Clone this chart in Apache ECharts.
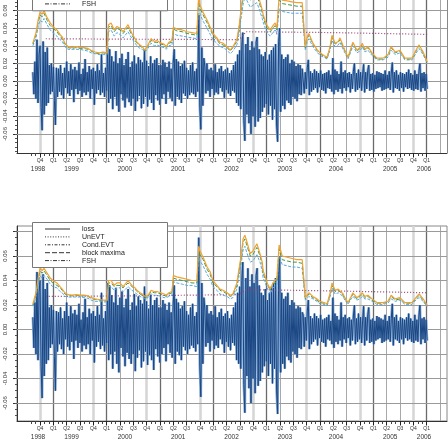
<!DOCTYPE html>
<html><head><meta charset="utf-8">
<script src="https://cdn.jsdelivr.net/npm/echarts@6/dist/echarts.min.js"></script>
<style>html,body{margin:0;padding:0;background:#fff}#c{width:448px;height:441px}</style>
</head><body><div id="c"></div>
<script>
// ---------- DATA (values in units of 0.001) ----------
const lossStart = 7.4, lossEnd = 96.1;   // months since Jan 1998
const loss = [
10,-15,22,-20,47,-25,30,
40,-30,-56,45,-38,33,-28,38,-25,
18,-15,20,-12,16,-22,-50,15,-18,
14,-12,18,-16,9,-20,15,-8,22,-14,11,-17,19,-10,13,-24,16,-9,12,-15,21,-11,8,-18,14,-13,25,-16,10,-12,17,-20,13,-9,15,-27,11,-14,19,-10,12,-16,30,-13,9,-18,15,-11,
38,-25,36,-20,28,-32,22,-18,34,-28,20,-35,26,-15,31,-22,18,-30,25,-19,33,-24,16,-28,22,-20,29,-34,19,-23,27,-17,24,-31,21,-26,35,-18,23,-29,17,-21,28,-25,20,-33,24,-16,26,-22,18,-27,
18,-20,24,-15,21,-26,16,-12,22,-19,14,-23,20,36,-28,25,-18,22,-21,17,-25,19,-14,23,-17,15,-20,12,-16,18,-13,21,-15,11,-18,14,-12,
75,-30,-55,38,-28,26,
16,-14,20,-11,13,-18,15,-9,12,-16,19,-13,10,-15,14,-8,17,-12,11,-19,13,-10,15,-14,9,-17,12,-11,18,-13,
22,-25,30,-28,35,-32,40,55,-45,-68,42,-38,50,-48,35,-60,45,-40,38,-52,44,50,-46,36,-42,30,-35,28,-30,33,-26,24,-38,30,-28,35,-44,38,-32,42,-50,-69,45,60,
-35,30,-28,25,-32,27,-22,30,-25,20,-27,24,-18,22,-20,17,-23,19,-15,18,-16,14,
12,-14,10,-9,15,24,-16,11,-12,9,-10,13,-8,11,-13,9,-7,12,-10,8,-11,9,-14,10,-8,12,-9,7,-12,26,
-15,13,-10,11,-12,8,-9,22,-14,10,-8,12,-11,9,-7,10,-13,8,-9,11,20,-12,9,-10,13,-8,10,-11,7,19,
-13,10,-9,12,18,-11,8,-10,9,-12,7,-9,11,-8,10,-7,9,-11,8,-10,12,-9,7,-8,11,-10,9,21,-13,10,
-8,12,-9,7,-11,10,-8,9,-12,8,-7,10,-9,13,-8,9,-10,7,-11,12,-9,8,-10,11,20,-12,9,-8,10,-11,8,-9
];
const varMonths = [7.4,8.1,8.6,9.0,9.5,9.9,10.6,11.3,11.9,12.8,
13.5,14.0,14.6,15.3,16.2,17.1,18.0,18.9,19.8,20.5,
21.4,22.3,23.2,24.1,24.4,25.0,25.7,26.3,27.0,27.7,
28.1,28.8,29.7,30.4,30.8,31.5,32.0,32.6,33.3,34.0,
34.7,35.3,36.2,36.9,37.4,38.0,38.7,39.0,39.8,41.0,
42.1,43.2,44.3,44.7,45.0,45.7,46.6,47.3,47.9,48.8,
49.5,50.2,51.1,51.8,52.4,53.3,53.8,54.2,54.7,55.1,
55.6,56.3,56.9,57.8,58.5,59.0,59.2,59.6,60.1,60.8,
61.4,61.9,62.3,62.8,63.5,64.6,65.7,66.8,68.0,68.4,
68.7,69.1,69.5,70.4,71.3,72.0,72.9,73.6,74.3,74.7,
75.4,76.1,76.5,77.2,77.6,78.3,79.0,79.4,80.3,81.0,
81.5,82.1,82.8,83.7,84.8,86.2,87.3,88.0,88.9,90.0,
91.1,92.7,93.8,94.3,95.2,96.1];
// upper panel
const condTop = [43,55,70,78,76,80,72,66,62,58, 53,50,43,39,38,39,38,38,37,35, 33,32,33,32,64,66,58,62,60,56, 55,64,54,48,44,41,39,35,41,48, 45,46,43,42,39,44,46,61,59,58, 56,55,54,98,86,78,69,61,54,49, 44,43,39,35,39,47,62,80,100,110, 104,96,98,102,90,81,76,69,63,58, 63,66,60,96,92,91,90,89,89,88, 39,50,54,43,36,32,29,27,40,52, 43,45,49,40,35,27,38,44,35,38, 43,36,39,32,26,26,30,39,33,35, 26,26,37,41,33,22];
const bmTop = [42,53,67,75,73,77,69,63,60,56, 51,48,42,38,37,38,37,37,36,34, 32,31,32,31,61,63,56,60,58,54, 53,61,52,46,43,40,38,34,40,46, 44,44,42,41,38,43,44,59,57,56, 54,53,52,94,83,75,66,59,52,47, 42,41,38,34,38,45,60,77,96,106, 100,92,94,98,86,78,73,66,60,56, 60,63,58,92,88,87,86,85,85,84, 38,48,52,42,35,31,28,26,39,50, 42,44,47,39,34,26,37,43,34,37, 42,35,38,31,25,25,29,38,32,34, 25,25,36,40,32,21.5];
const fshTop = [40,49,62,69,67,71,64,58,55,51, 47,45,39,36,36,36,36,35,34,32, 31,30,30,30,56,58,51,55,53,49, 48,56,48,43,40,37,36,33,37,43, 40,41,39,38,36,40,41,54,52,51, 50,49,48,86,76,68,60,53,47,43, 39,38,35,31,34,41,54,70,87,96, 91,84,86,89,79,71,67,61,55,51, 55,58,53,82,79,78,77,77,77,76, 35,44,48,39,33,29,27,25,36,46, 39,41,44,36,32,25,34,40,32,34, 39,33,35,29,24,24,27,35,30,32, 24,24,33,37,30,20.5];
// lower panel
const condBot = [21,30,42,50,48,50,46,42,40,38, 35,33,30,28.5,28,28.5,28,28,27.5,26, 25,24.5,24,24,40,40,36,38,38,35, 34,40,36,34,32,30,29,27,28,32, 31,31,30,29,28,30,31,44,43,42, 41,40,40,68,64,59,51,47,40,36, 33,32,30,28,29,38,50,59,74,77, 71,62,64,70,62,55,48,44,38,33, 38,40,42,69,60,59,58,57,57,56, 26,28,30,27,25,23,22,21,30,38, 32,33,34,29,26,22,27,30,26,28, 30,27,28,25,22,22,23,28,25,26, 22,22,27,29,25,20];
const bmBot = [20,29,40,48,46,48,44,40,38,36, 34,32,29,28,27.5,28,27.5,27.5,27,25.5, 24.5,24,23.5,23.5,38,38,35,36,36,34, 33,38,35,33,31,29,28,26,27,31, 30,30,29,28,27,29,30,42,41,40, 39,38,38,65,61,57,49,45,38,35, 32,31,29,27,28,36,48,57,71,74, 68,60,61,67,60,53,46,42,37,32, 37,38,40,66,57,56,55,55,54,54, 25,27,29,26,24,22,21.5,20.5,29,36, 31,32,33,28,25,21.5,26,29,25,27, 29,26,27,24,21.5,21.5,22.5,27,24,25, 21.5,21.5,26,28,24,19.5];
const fshBot = [19,27,37,44,42,44,41,37,35,34, 31,30,27,26.5,26.5,26.5,26.5,26,25.5,24, 23,23,22.5,22.5,35,35,32,34,34,31, 30,35,32,30,29,27,26,25,26,29, 28,28,27,26,26,27,28,39,38,37, 36,36,35,60,56,52,45,41,35,32, 29,28,27,25,26,33,44,52,65,68, 62,55,56,61,55,48,42,39,34,29, 34,35,37,60,53,52,51,51,50,50, 24,25,27,25,23,21,20.5,19.5,27,34, 29,30,31,27,24,20.5,25,27,24,25, 27,25,25,23,20.5,20.5,21.5,25,23,24, 20.5,20.5,25,26,23,18.5];
const unevtMonths = [10.3, 30, 53.8, 55.4, 75, 96.1];
const unevtTop = [48, 47.5, 47, 56, 55, 53];
const unevtBot = [27, 27.5, 28.5, 32.6, 31.5, 30];
// tick labels
const yearLabels = ['1998','1999','2000','2001','2002','2003','2004','2005','2006'];
const yearPos = [8.55, 16.1, 28.1, 40.1, 52.1, 64.1, 75.6, 87.8, 95.4];
const yLabelsTop = [-0.06,-0.04,-0.02,0,0.02,0.04,0.06,0.08];
const yLabelsBot = [-0.06,-0.04,-0.02,0,0.02,0.04,0.06];
const legendNames = ['loss','UnEVT','Cond.EVT','block maxima','FSH'];

// ---------- BUILD ----------
const FONT = '"Liberation Sans", Arial, sans-serif';
const XMIN = 3.825, XMAX = 100.575;
const monthTicks = []; for (let m = 7; m <= 96; m++) monthTicks.push(m);
const quarterMonths = []; for (let m = 9; m <= 99; m += 3) quarterMonths.push(m);
const quarterLabelMonths = quarterMonths.filter(m => m <= 96);
const qName = v => 'Q' + (Math.floor((Math.round(v) % 12) / 3) + 1);
const yearName = v => { let b = 0; yearPos.forEach((p, i) => { if (Math.abs(p - v) < Math.abs(yearPos[b] - v)) b = i; }); return yearLabels[b]; };

const n = loss.length;
const lossData = loss.map((v, i) => [lossStart + i * (lossEnd - lossStart) / (n - 1), v / 1000]);
const pairs = (xs, ys) => ys.map((v, i) => [xs[i], v / 1000]).filter(p => p[0] != null);

const panels = [
  {top: 0, height: 153, yMin: -0.0818, yMax: 0.09205, border: false, cond: condTop, bm: bmTop, fsh: fshTop, un: unevtTop,
   yLabels: yLabelsTop, yGrid: [-0.06,-0.04,-0.02,0,0.02,0.04,0.06,0.08], legendY: -34.7},
  {top: 226, height: 195, yMin: -0.0747, yMax: 0.0845, border: true, cond: condBot, bm: bmBot, fsh: fshBot, un: unevtBot,
   yLabels: yLabelsBot, yGrid: [-0.06,-0.04,-0.02,0,0.02,0.04,0.06,0.08], legendY: 222}
];

const grid = [], xAxis = [], yAxis = [], series = [], graphics = [];
panels.forEach((p, gi) => {
  grid.push({left: 17, right: 1, top: p.top, height: p.height, show: p.border, borderColor: '#888', borderWidth: 1, backgroundColor: 'transparent'});
  xAxis.push({type: 'value', gridIndex: gi, min: XMIN, max: XMAX, position: 'bottom',
    axisLine: {show: true, onZero: false, lineStyle: {color: '#333', width: 1}},
    axisTick: {show: true, customValues: monthTicks, length: 3, lineStyle: {color: '#444', width: 1}},
    axisLabel: {show: true, customValues: quarterLabelMonths, formatter: qName, fontSize: 5, color: '#333', margin: 5, fontFamily: FONT},
    splitLine: {show: false}});
  xAxis.push({type: 'value', gridIndex: gi, min: XMIN, max: XMAX, position: 'bottom',
    axisLine: {show: false, onZero: false},
    axisTick: {show: true, customValues: quarterLabelMonths, length: 4.5, lineStyle: {color: '#222', width: 1}},
    axisLabel: {show: true, customValues: yearPos, formatter: yearName, fontSize: 6.5, color: '#333', margin: 13, fontFamily: FONT},
    splitLine: {show: false}});
  const minor = [];
  for (let k = Math.ceil(p.yMin / 0.005); k * 0.005 <= p.yMax; k++) minor.push(+(k * 0.005).toFixed(3));
  yAxis.push({type: 'value', gridIndex: gi, min: p.yMin, max: p.yMax, position: 'left',
    axisLine: {show: true, onZero: false, lineStyle: {color: '#333', width: 1}},
    axisTick: {show: true, customValues: p.yGrid, length: 4, lineStyle: {color: '#333'}},
    axisLabel: {show: true, customValues: p.yLabels, rotate: 90, formatter: v => v.toFixed(2), fontSize: 6, color: '#333', margin: 9, fontFamily: FONT},
    splitLine: {show: false}});
  yAxis.push({type: 'value', gridIndex: gi, min: p.yMin, max: p.yMax, position: 'left',
    axisLine: {show: false, onZero: false},
    axisTick: {show: true, customValues: minor, length: 2, lineStyle: {color: '#555'}},
    axisLabel: {show: false}, splitLine: {show: false}});

  const xi = gi * 2, yi = gi * 2;
  const vLines = quarterMonths.map(m => {
    const r = m % 12;
    return {xAxis: m, lineStyle: {type: 'solid', color: r === 0 ? '#6a6a6a' : (r === 9 ? '#d5d5d5' : '#a8a8a8'), width: r === 9 ? 2.5 : (r === 0 ? 1.3 : 1)}};
  });
  if (!p.border) vLines.push({xAxis: XMAX - 0.05, lineStyle: {type: 'solid', color: '#888', width: 1}});
  const hLines = p.yGrid.map(v => ({yAxis: v, lineStyle: {type: 'solid', color: '#9a9a9a', width: 1}}));
  const base = {type: 'line', xAxisIndex: xi, yAxisIndex: yi, showSymbol: false, symbol: 'none', silent: true, animation: false, clip: true};
  series.push(Object.assign({}, base, {name: 'loss', data: lossData, z: 2,
    lineStyle: {color: '#86acd9', width: 2.6},
    markLine: {silent: true, symbol: ['none', 'none'], label: {show: false}, animation: false, z: 1, emphasis: {disabled: true}, data: vLines.concat(hLines)}}));
  series.push(Object.assign({}, base, {name: 'loss', data: lossData, z: 3, lineStyle: {color: '#1a4682', width: 1}}));
  series.push(Object.assign({}, base, {name: 'UnEVT', data: pairs(unevtMonths, p.un), z: 4, lineStyle: {color: '#9a3d70', width: 1.2, type: [1, 2]}}));
  series.push(Object.assign({}, base, {name: 'FSH', data: pairs(varMonths, p.fsh), z: 4, lineStyle: {color: '#58a8e2', width: 1, type: [3, 1.5]}}));
  series.push(Object.assign({}, base, {name: 'block maxima', data: pairs(varMonths, p.bm), z: 5, lineStyle: {color: '#3f9a4a', width: 1, type: [4, 2]}}));
  series.push(Object.assign({}, base, {name: 'Cond.EVT', data: pairs(varMonths, p.cond), z: 6, lineStyle: {color: '#f2a233', width: 1.2}}));

  // legend box
  const ly = p.legendY;
  graphics.push({type: 'rect', silent: true, z: 100, shape: {x: 32.5, y: ly + 0.5, width: 135, height: 45}, style: {fill: '#fff', stroke: '#777', lineWidth: 1}});
  const dashes = [null, [1, 1.6], [1, 1.5, 3, 1.5], [5, 2], [4, 1.5, 1, 1.5]];
  legendNames.forEach((name, k) => {
    const yy = ly + 7 + k * 7.9;
    graphics.push({type: 'line', silent: true, z: 101, shape: {x1: 45, y1: yy, x2: 70, y2: yy}, style: {stroke: '#333', lineWidth: 1, lineDash: dashes[k]}});
    graphics.push({type: 'text', silent: true, z: 101, x: 82, y: yy, style: {text: name, fill: '#222', fontSize: 7, fontFamily: FONT, verticalAlign: 'middle', align: 'left'}});
  });
});

const chart = echarts.init(document.getElementById('c'), null, {renderer: 'canvas'});
chart.setOption({animation: false, backgroundColor: '#fff', grid, xAxis, yAxis, series, graphic: {elements: graphics}});
</script></body></html>
